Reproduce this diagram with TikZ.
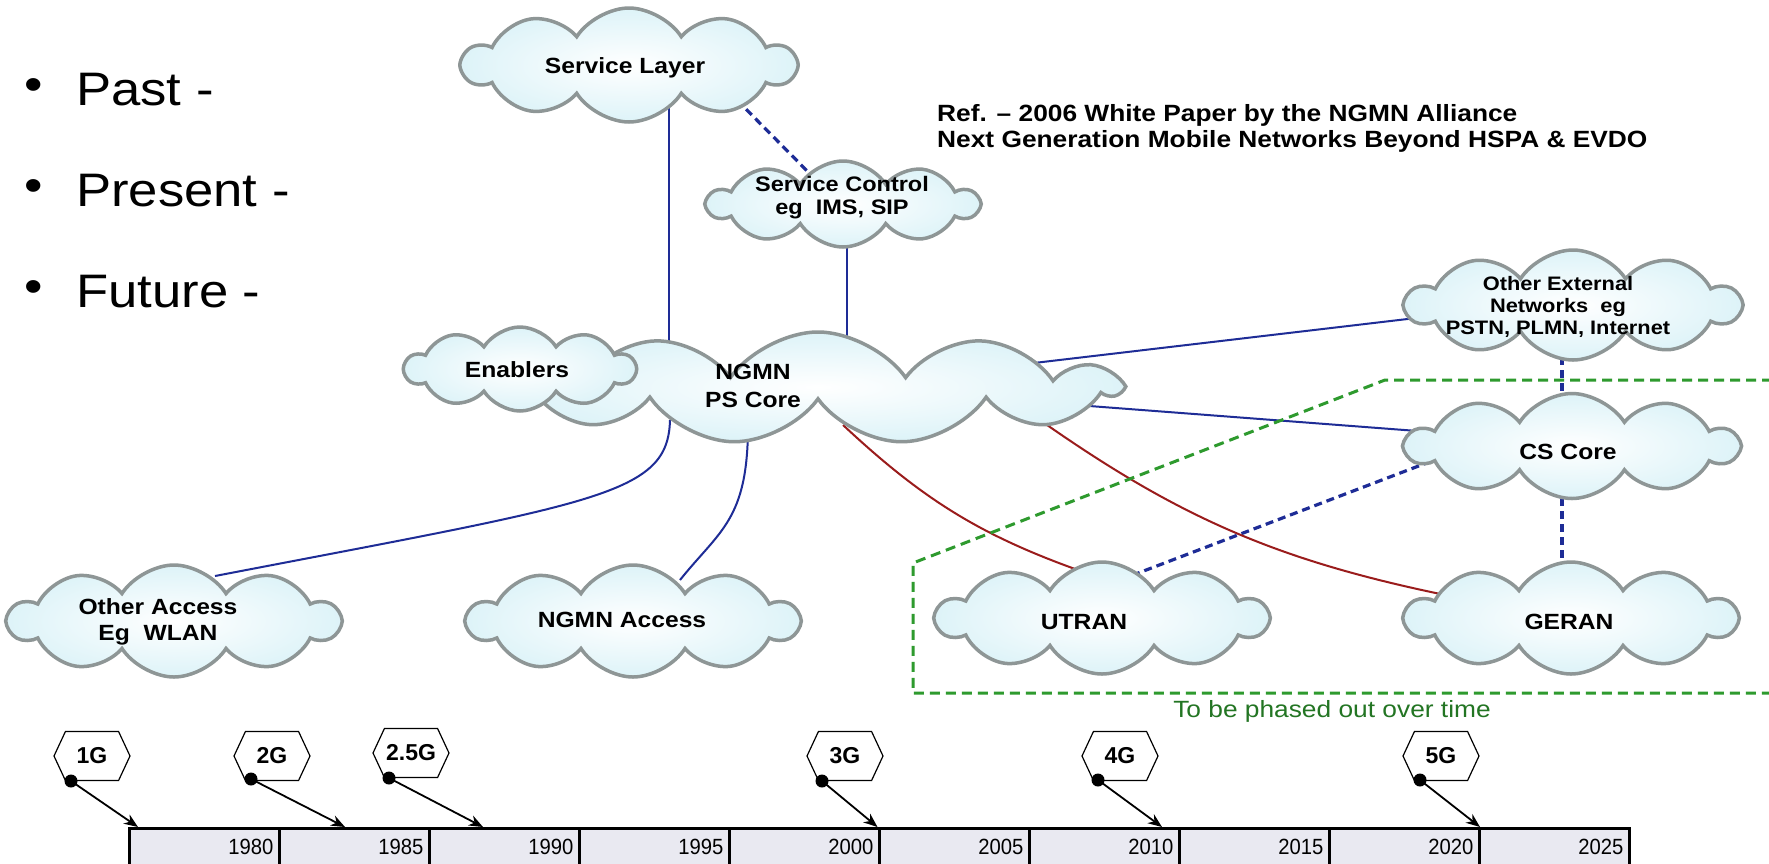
\documentclass[tikz,border=0pt]{standalone}
\usepackage{fontspec}
\setmainfont{Liberation Sans}
\newfontfamily\wf[FakeStretch=1.12]{Liberation Sans}
\newfontfamily\nf[FakeStretch=0.92]{Liberation Sans}
\usetikzlibrary{shapes.symbols,calc,arrows.meta}
\pgfdeclarelayer{bg}
\pgfsetlayers{bg,main}
\definecolor{lnblue}{HTML}{1E2C96}
\definecolor{lnred}{HTML}{9A1C1C}
\definecolor{boxgreen}{HTML}{2E9A2E}
\definecolor{txtgreen}{HTML}{237523}
\definecolor{cloudedge}{HTML}{8E9696}
\definecolor{cloudfill}{HTML}{DDF3F8}
\definecolor{cellfill}{HTML}{E9E9F1}
\begin{document}
\begin{tikzpicture}[x=1pt,y=-1pt,
  cloudbox/.style={cloud, cloud ignores aspect, cloud puffs=10, cloud puff arc=115,
    draw=cloudedge, line width=3.5, shade, inner color=white, outer color=cloudfill, inner sep=0},
  pscloud/.style={cloudbox, cloud puffs=11, cloud puff arc=110},
  lbl/.style={align=center, inner sep=0, font=\wf\bfseries\fontsize{22}{26}\selectfont},
  solidb/.style={lnblue, line width=2},
  dashb/.style={lnblue, line width=3.2, dash pattern=on 8 off 5},
  redl/.style={lnred, line width=2},
  gbox/.style={boxgreen, line width=3, dash pattern=on 10 off 6},
  bul/.style={anchor=west, inner sep=0, font=\wf\fontsize{47}{50}\selectfont},
  reftxt/.style={anchor=base west, inner sep=0, font=\wf\bfseries\fontsize{23.5}{25}\selectfont},
  cell/.style={draw, line width=2.5, fill=cellfill, anchor=north west, minimum width=150, minimum height=60, inner sep=0},
  yr/.style={anchor=east, inner sep=0, font=\nf\fontsize{22}{22}\selectfont},
  hexa/.style={signal, signal to=west and east, signal pointer angle=130, draw, line width=1.2,
    minimum width=76, minimum height=49, inner sep=0, fill=white, font=\bfseries\fontsize{23}{23}\selectfont},
  dot/.style={circle, fill=black, minimum size=13, inner sep=0},
  tl/.style={line width=1.8, -{Stealth[length=14,width=11]}}
]
\useasboundingbox (0,0) rectangle (1769,863);
\clip (0,0) rectangle (1769,863);
\begin{pgfonlayer}{bg}
\fill[white] (0,0) rectangle (1769,863);
\end{pgfonlayer}

% bullets
\node[bul] (b1) at (24,90) {\textbullet};
\node[bul] (past) at (76,90) {Past -};
\node[bul] (b2) at (24,191) {\textbullet};
\node[bul] (pres) at (76,191) {Present -};
\node[bul] (b3) at (24,292) {\textbullet};
\node[bul] (fut) at (76,292) {Future -};

% reference text
\node[reftxt] (ref1) at (937,121) {Ref. – 2006 White Paper by the NGMN Alliance};
\node[reftxt] (ref2) at (937,147) {Next Generation Mobile Networks Beyond HSPA \& EVDO};

% clouds
\node[cloudbox, minimum width=332, minimum height=114] (sl) at (629,65) {};
\node[lbl] (slt) at (625,68) {Service Layer};
\node[cloudbox, minimum width=270, minimum height=86] (sc) at (843,204) {};
\node[lbl, font=\wf\bfseries\fontsize{21}{23}\selectfont] (sct) at (842,198) {Service Control\\eg\ \ IMS, SIP};
\node[pscloud, minimum width=600, minimum height=112] (ps) at (818,388) {};
\node[lbl, font=\wf\bfseries\fontsize{22}{28}\selectfont] (pst) at (753,386) {NGMN\\PS Core};
\node[cloudbox, minimum width=230, minimum height=84] (en) at (520,369) {};
\node[lbl] (ent) at (517,370) {Enablers};
\node[cloudbox, minimum width=333, minimum height=110] (oe) at (1573,305) {};
\node[lbl, font=\wf\bfseries\fontsize{19.5}{22}\selectfont] (oet) at (1558,307) {Other External\\Networks\ \ eg\\PSTN, PLMN, Internet};
\node[cloudbox, minimum width=331, minimum height=105] (cs) at (1572,446) {};
\node[lbl] (cst) at (1568,452) {CS Core};
\node[cloudbox, minimum width=330, minimum height=112] (oa) at (174,621) {};
\node[lbl] (oat) at (158,622) {Other Access\\Eg\ \ WLAN};
\node[cloudbox, minimum width=330, minimum height=112] (na) at (633,621) {};
\node[lbl] (nat) at (622,620) {NGMN Access};
\node[cloudbox, minimum width=330, minimum height=112] (ut) at (1102,618) {};
\node[lbl] (utt) at (1084,622) {UTRAN};
\node[cloudbox, minimum width=330, minimum height=112] (ge) at (1571,618) {};
\node[lbl] (get) at (1569,622) {GERAN};

% connectors (behind clouds)
\begin{pgfonlayer}{bg}
\draw[solidb] ($(sl)+(40,0)$) -- ($(ps)+(-149,0)$);
\draw[dashb] ($(sl)+(108,35)$) -- ($(sc)+(-25,-22)$);
\draw[solidb] ($(sc)+(4,0)$) -- ($(ps)+(29,0)$);
\draw[solidb] ($(ps)+(182,-21)$) -- ($(oe)+(-123,9)$);
\draw[solidb] ($(ps)+(232,15)$) -- ($(cs)+(-102,-11)$);
\draw[dashb] ($(oe)+(-11,0)$) -- ($(cs)+(-10,0)$);
\draw[dashb] ($(cs)+(-10,0)$) -- ($(ge)+(-9,0)$);
\draw[dashb] ($(ut)+(18,-38)$) -- ($(cs)+(-122,8)$);
\draw[redl] ($(ps)+(25,37)$) to[bend right=12] ($(ut)+(-10,-43)$);
\draw[redl] ($(ps)+(212,25)$) to[bend right=12] ($(ge)+(-116,-21)$);
\draw[solidb] ($(ps)+(-148,32)$) .. controls (668,495) and (600,502) .. ($(oa)+(41,-45)$);
\draw[solidb] ($(ps)+(-70,37)$) .. controls (748,520) and (720,530) .. ($(na)+(47,-41)$);
% phase-out region
\coordinate (g1) at (1772,380);
\coordinate (g2) at (1385,380);
\coordinate (g3) at (913,563);
\coordinate (g4) at (913,693);
\coordinate (g5) at (1772,693);
\draw[gbox] (g1) -- (g2) -- (g3) -- (g4) -- (g5);
\end{pgfonlayer}
\node[font=\wf\fontsize{23.5}{25}\selectfont, text=txtgreen, inner sep=0] (phase) at (1332,711) {To be phased out over time};

% timeline
\foreach \i/\yr in {0/1980,1/1985,2/1990,3/1995,4/2000,5/2005,6/2010,7/2015,8/2020,9/2025}{
  \node[cell] (c\i) at ({128+150*\i},827) {};
  \node[yr] (y\i) at ($(c\i.north east)+(-7,20)$) {\yr};
}
\node[hexa] (h1) at (92,756) {1G};
\node[hexa] (h2) at (272,756) {2G};
\node[hexa] (h3) at (411,753) {2.5G};
\node[hexa] (h4) at (845,756) {3G};
\node[hexa] (h5) at (1120,756) {4G};
\node[hexa] (h6) at (1441,756) {5G};
\node[dot] (d1) at (71,781) {};
\node[dot] (d2) at (251,779) {};
\node[dot] (d3) at (389,778) {};
\node[dot] (d4) at (822,781) {};
\node[dot] (d5) at (1098,780) {};
\node[dot] (d6) at (1420,780) {};
\draw[tl] (d1.center) -- ($(c0.north west)+(10,0)$);
\draw[tl] (d2.center) -- ($(c1.north west)+(67,0)$);
\draw[tl] (d3.center) -- ($(c2.north west)+(55,0)$);
\draw[tl] (d4.center) -- ($(c4.north east)+(-3,0)$);
\draw[tl] (d5.center) -- ($(c7.north west)+(-16,0)$);
\draw[tl] (d6.center) -- ($(c9.north west)+(2,0)$);
\end{tikzpicture}
\end{document}
